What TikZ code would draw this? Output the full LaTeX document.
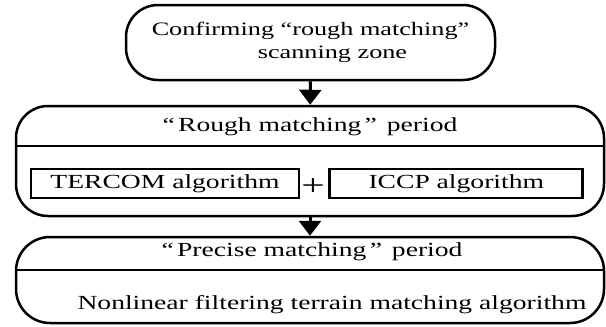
\documentclass[tikz,border=0pt]{standalone}
\usepackage{fontspec}
\setmainfont{Liberation Serif}[FakeStretch=1.38]
\usetikzlibrary{arrows.meta}
\usetikzlibrary{positioning}

\begin{document}
\begin{tikzpicture}[x=1pt, y=-1pt, rbox/.style={draw,line width=2.5pt,
		rounded corners=32pt,inner sep=0pt}, abox/.style={draw,line width=2.8pt,
		inner sep=0pt,minimum height=29pt}, txt/.style={font=\fontsize{20}{23}\selectfont},
	flow/.style={line width=3pt,-{Triangle[width=22pt,length=15pt]}}]
	\useasboundingbox (0, 0) rectangle (606, 327);
	\node[rbox,minimum width=369pt,minimum height=75pt,align=center,
		font=\fontsize{19}{23}\selectfont] (zone) at (310.5, 42.5)
		{Confirming “rough matching”\\\hspace*{44pt}scanning zone};
	\node[rbox,minimum width=588pt,minimum height=110pt] (rough) at (310, 161) {};
	\node[rbox,minimum width=588pt,minimum height=86pt,rounded corners=34pt] (precise) at (310, 280) {};
	\coordinate (rl) at (17, 146);
	\coordinate (rr) at (603, 146);
	\coordinate (pl) at (17, 270);
	\coordinate (pr) at (603, 270);
	\draw[line width=1.8pt] (rl) to (rr);
	\draw[line width=1.8pt] (pl) to (pr);
	\node[txt] (roughtitle) at (310, 127) {“\,Rough matching\,”\enspace period};
	\node[txt,abox,minimum width=268pt] (tercom) at (165, 183.5) {TERCOM algorithm};
	\node[txt,abox,minimum width=253pt,right=28pt of tercom] (iccp) {ICCP algorithm};
	\node[font=\fontsize{30}{30}\selectfont,inner sep=0pt] (plus) at (313, 187) {+};
	\node[txt] (precisetitle) at (312, 252) {“\,Precise matching\,”\enspace period};
	\node[txt] (nonlinear) at (332, 305) {Nonlinear filtering terrain matching algorithm};
	\draw[flow] (zone) to (rough);
	\draw[flow] (rough) to (precise);
\end{tikzpicture}
\end{document}
